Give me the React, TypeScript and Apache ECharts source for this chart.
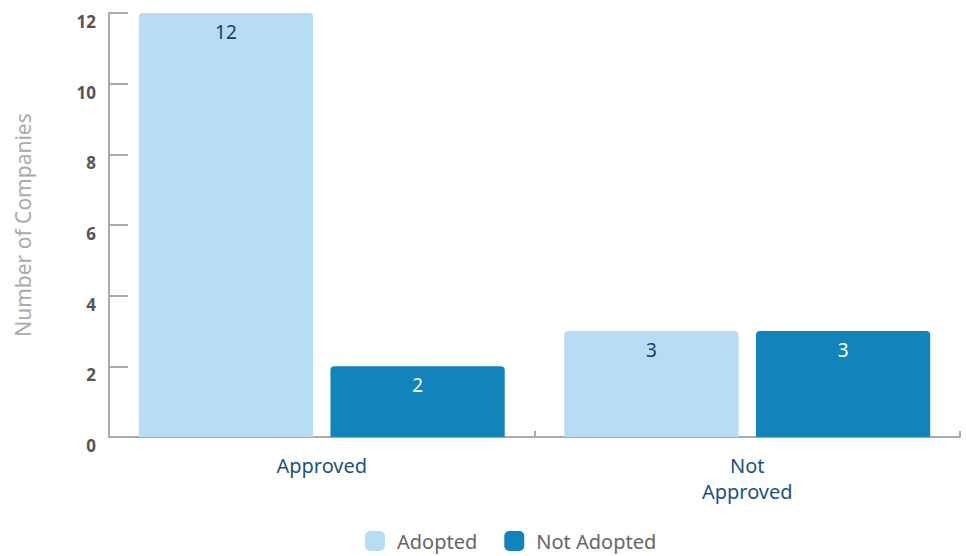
import React, { useEffect, useRef } from "react";
import * as echarts from "echarts";

const categories = ["Approved", "Not\nApproved"];
const adopted = [12, 3];
const notAdopted = [2, 3];
const yTicks = { min: 0, max: 12, interval: 2 };

export default function App() {
  const ref = useRef<HTMLDivElement>(null);
  useEffect(() => {
    if (!ref.current) return;
    const chart = echarts.init(ref.current, null, { renderer: "svg" });
    const font = "'Noto Sans', sans-serif";
    chart.setOption({
      animation: false,
      textStyle: { fontFamily: font },
      grid: { left: 109, right: 6, top: 13, bottom: 119, containLabel: false },
      legend: {
        top: 531,
        left: 365,
        padding: 0,
        itemWidth: 20,
        itemHeight: 20,
        itemGap: 27,
        icon: "roundRect",
        textStyle: { color: "#666", fontSize: 20, fontFamily: font, padding: [0, 0, 0, 7] },
        data: ["Adopted", "Not Adopted"],
      },
      xAxis: {
        type: "category",
        data: categories,
        axisLine: { lineStyle: { color: "#aaa", width: 2 } },
        axisTick: { show: true, inside: true, length: 6, lineStyle: { color: "#aaa", width: 2 } },
        axisLabel: { color: "#1b5283", fontSize: 20, lineHeight: 26, margin: 15, fontFamily: font },
      },
      yAxis: {
        type: "value",
        min: yTicks.min,
        max: yTicks.max,
        interval: yTicks.interval,
        name: "Number of Companies",
        nameLocation: "middle",
        nameGap: 76,
        nameTextStyle: { color: "#aaa", fontSize: 21, fontFamily: font },
        splitLine: { show: false },
        axisLine: { show: true, lineStyle: { color: "#aaa", width: 2 } },
        axisTick: { show: true, inside: true, length: 19, lineStyle: { color: "#aaa", width: 2 } },
        axisLabel: { color: "#555", fontSize: 17, fontWeight: "bold", margin: 13, verticalAlign: "top", fontFamily: font },
      },
      series: [
        {
          name: "Adopted",
          type: "bar",
          data: adopted,
          barGap: "10%",
          barCategoryGap: "14%",
          itemStyle: { color: "#b8dcf4", borderRadius: [4, 4, 0, 0] },
          label: { show: true, position: "insideTop", distance: 9, color: "#153f6b", fontSize: 19, fontFamily: font },
        },
        {
          name: "Not Adopted",
          type: "bar",
          data: notAdopted,
          itemStyle: { color: "#1283bb", borderRadius: [4, 4, 0, 0] },
          label: { show: true, position: "insideTop", distance: 9, color: "#fff", fontSize: 19, fontFamily: font },
        },
      ],
    });
    return () => chart.dispose();
  }, []);
  return <div ref={ref} style={{ position: "fixed", left: 0, top: 0, width: 966, height: 556, background: "#fff" }} />;
}
